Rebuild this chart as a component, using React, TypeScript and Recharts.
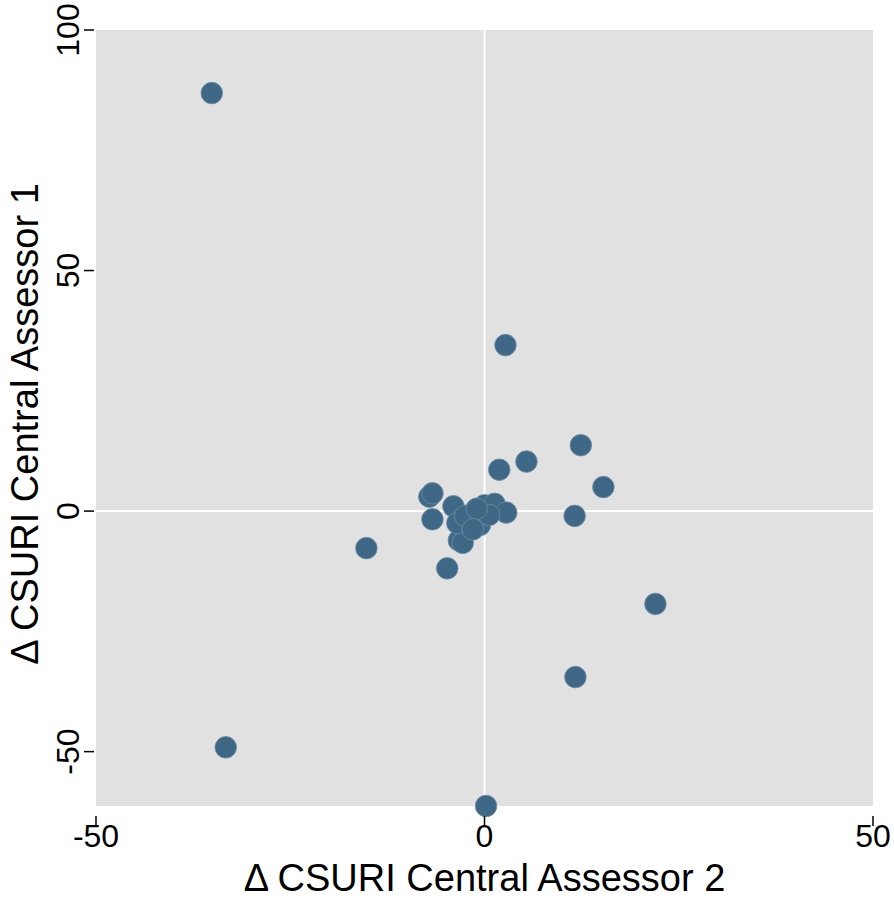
/* eslint-disable */
import {
  ScatterChart,
  Scatter,
  XAxis,
  YAxis,
  CartesianGrid,
  ReferenceLine,
  Label,
} from "recharts";

// Δ CSURI per participant: Central Assessor 2 (x) vs Central Assessor 1 (y)
const assessor2 = [
  -35.1, -33.3, -15.2, 2.7, 12.4, 15.3, 5.4, 1.9, 11.6, 22.0, 11.7, 0.2, -4.8,
  -7.1, -6.7, -6.7, -4.0, -3.3, -2.8, -3.5, 0.0, 1.3, 2.8, -0.6, -1.7, 0.6,
  -2.5, -1.0, -1.5,
];
const assessor1 = [
  86.9, -49.1, -7.7, 34.5, 13.7, 5.0, 10.3, 8.6, -1.0, -19.3, -34.5, -61.3,
  -11.9, 3.0, 3.7, -1.7, 1.0, -6.1, -6.6, -2.5, 1.2, 1.5, -0.3, -2.9, -1.2,
  -0.8, -1.0, 0.5, -3.8,
];

const xTicks = [-50, 0, 50];
const yTicks = [-50, 0, 50, 100];

const points = assessor2.map((x, i) => ({ x, y: assessor1[i] }));

const FONT = "'Liberation Sans', Arial, sans-serif";

function XTick({ x, y, payload }: any) {
  return (
    <g>
      <line x1={x} x2={x} y1={y + 2} y2={y + 12} stroke="#000" strokeWidth={1.5} />
      <text
        x={x}
        y={y + 22}
        textAnchor="middle"
        dominantBaseline="central"
        fontSize={32}
        fontFamily={FONT}
        fill="#000"
      >
        {payload.value}
      </text>
    </g>
  );
}

function YTick({ y, payload }: any) {
  return (
    <g>
      <line x1={84} x2={94} y1={y} y2={y} stroke="#000" strokeWidth={1.5} />
      <text
        x={68}
        y={y}
        transform={`rotate(-90, 68, ${y})`}
        textAnchor="middle"
        dominantBaseline="central"
        fontSize={32}
        fontFamily={FONT}
        fill="#000"
      >
        {payload.value}
      </text>
    </g>
  );
}

export default function App() {
  return (
    <div style={{ position: "absolute", left: 0, top: 0 }}>
      <ScatterChart
        width={894}
        height={900}
        margin={{ top: 30, right: 21, bottom: 0, left: 0 }}
        style={{ background: "#fff" }}
      >
        <CartesianGrid horizontal={false} vertical={false} fill="#e1e1e1" />
        <XAxis
          type="number"
          dataKey="x"
          domain={[-50, 50]}
          ticks={xTicks}
          height={94}
          axisLine={false}
          tickLine={false}
          tick={<XTick />}
        >
          <Label
            content={() => (
              <text
                x={484.5}
                y={891}
                textAnchor="middle"
                fontSize={38}
                fontFamily={FONT}
                fill="#000"
              >
                Δ CSURI Central Assessor 2
              </text>
            )}
          />
        </XAxis>
        <YAxis
          type="number"
          dataKey="y"
          domain={[-61.3, 100]}
          ticks={yTicks}
          width={96}
          axisLine={false}
          tickLine={false}
          tick={<YTick />}
        >
          <Label
            content={() => (
              <text
                x={25}
                y={424}
                transform="rotate(-90, 25, 424)"
                textAnchor="middle"
                dominantBaseline="central"
                fontSize={38}
                fontFamily={FONT}
                fill="#000"
              >
                Δ CSURI Central Assessor 1
              </text>
            )}
          />
        </YAxis>
        <ReferenceLine x={0} stroke="#fff" strokeWidth={2} />
        <ReferenceLine y={0} stroke="#fff" strokeWidth={2} />
        <Scatter
          data={points}
          fill="#3e6886"
          isAnimationActive={false}
          shape={(p: any) => (
            <circle cx={p.cx} cy={p.cy} r={10.8} fill="#3e6886" stroke="#6e8ea3" strokeWidth={0.8} />
          )}
        />
      </ScatterChart>
    </div>
  );
}
